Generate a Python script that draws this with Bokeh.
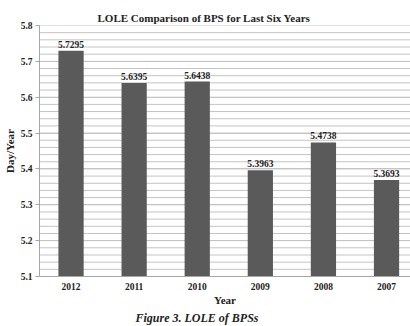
from bokeh.plotting import figure
from bokeh.models import FixedTicker, Range1d, Title, ColumnDataSource
from bokeh.core.properties import value
from bokeh.embed import file_html
from bokeh.resources import INLINE

years = ["2012", "2011", "2010", "2009", "2008", "2007"]
lole = [5.7295, 5.6395, 5.6438, 5.3963, 5.4738, 5.3693]
labels = ["5.7295", "5.6395", "5.6438", "5.3963", "5.4738", "5.3693"]
y_ticks = [5.1, 5.2, 5.3, 5.4, 5.5, 5.6, 5.7, 5.8]
y_minor = [round(5.1 + 0.02 * i, 2) for i in range(36)]

FONT = "Liberation Serif"
xs = [i + 0.5 for i in range(len(years))]
src = ColumnDataSource(dict(x=xs, y=lole, lab=labels))

p = figure(width=410, height=326, output_backend="svg", toolbar_location=None,
           x_range=Range1d(0, 5.88), y_range=Range1d(5.1, 5.8),
           min_border_left=4, min_border_right=0, min_border_top=25, min_border_bottom=50)

p.title.text = "LOLE Comparison of BPS for Last Six Years"
p.title.text_font = FONT
p.title.text_font_size = "11px"
p.title.text_font_style = "bold"
p.title.align = "left"
p.title.offset = 58
p.title.standoff = 4
p.title.text_color = "#222222"

p.segment(x0=[0] * len(y_minor), x1=[5.88] * len(y_minor), y0=y_minor, y1=y_minor,
          line_color="#c4c4c4", line_width=1)

p.vbar(x="x", top="y", bottom=5.1, width=0.4, source=src,
       fill_color="#5a5a5a", line_color=None)
p.text(x="x", y="y", text="lab", source=src, text_align="center",
       text_baseline="bottom", y_offset=-3, text_font=value(FONT),
       text_font_size="9.5px", text_font_style="bold", text_color="#222222")

p.xaxis.ticker = FixedTicker(ticks=xs)
p.xaxis.major_label_overrides = {x: y for x, y in zip(xs, years)}
p.xaxis.major_tick_line_color = None
p.xaxis.minor_tick_line_color = None
p.xaxis.axis_line_color = "#a6a6a6"
p.xaxis.major_label_standoff = 0
p.xaxis.axis_label = "Year"
p.xaxis.axis_label_standoff = 1

p.yaxis.ticker = FixedTicker(ticks=y_ticks)
p.yaxis.formatter.use_scientific = False
p.yaxis.major_tick_in = 0
p.yaxis.major_tick_out = 4
p.yaxis.minor_tick_line_color = None
p.yaxis.major_tick_line_color = "#a6a6a6"
p.yaxis.axis_line_color = "#a6a6a6"
p.yaxis.major_label_standoff = 3
p.yaxis.axis_label = "Day/Year"
p.yaxis.axis_label_standoff = 2

for ax in (p.xaxis, p.yaxis):
    ax.major_label_text_font = FONT
    ax.major_label_text_font_style = "bold"
    ax.major_label_text_font_size = "9.5px"
    ax.major_label_text_color = "#222222"
    ax.axis_label_text_font = FONT
    ax.axis_label_text_font_style = "bold"
    ax.axis_label_text_font_size = "11px"
    ax.axis_label_text_color = "#222222"

p.xgrid.grid_line_color = None
p.ygrid.grid_line_color = "#c4c4c4"
p.outline_line_color = None

cap = Title(text="Figure 3. LOLE of BPSs", align="left", offset=96,
            text_font=FONT, text_font_style="bold italic", text_font_size="12px",
            text_color="#222222", standoff=0)
p.add_layout(cap, "below")

open("out.html", "w").write(file_html(p, INLINE))
